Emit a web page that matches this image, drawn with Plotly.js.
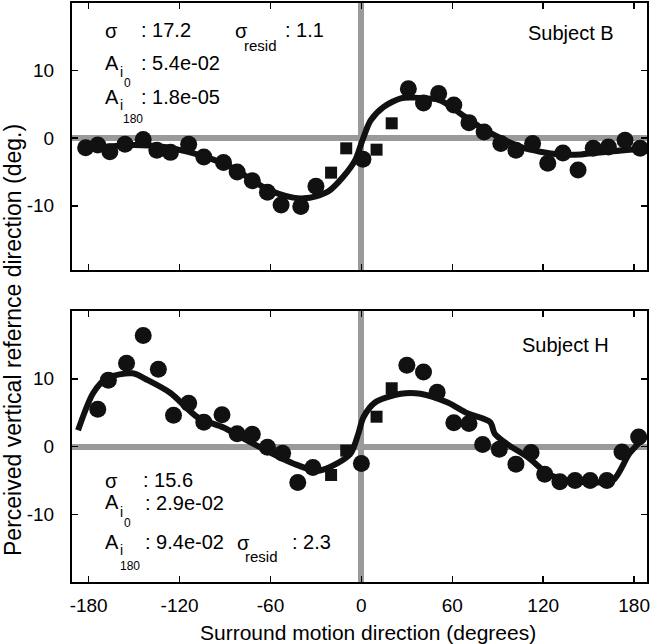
<!DOCTYPE html>
<html>
<head>
<meta charset="utf-8">
<script src="https://cdn.plot.ly/plotly-3.0.1.min.js"></script>
<style>html,body{margin:0;padding:0;background:#fff;}#chart{width:652px;height:644px;}</style>
</head>
<body>
<div id="chart"></div>
<script>
// ---- Data ----
// Subject B (top panel)
const bCircleX = [-182,-174,-166,-156,-144,-135,-126,-114,-104,-91,-82,-72,-62,-53,-40,-30,1,31,41,51,61,71,81,92,102,113,123,133,143,153,163,174,184];
const bCircleY = [-1.4,-1.0,-2.0,-0.9,-0.2,-1.8,-2.1,-0.9,-2.8,-3.6,-5.0,-6.3,-8.0,-9.9,-10.1,-7.1,-3.1,7.3,5.2,6.6,4.9,2.3,0.9,-0.8,-1.8,-0.8,-3.7,-2.2,-4.7,-1.5,-1.3,-0.3,-1.5];
const bSquareX = [-20,-10,10,20];
const bSquareY = [-5.1,-1.5,-1.7,2.2];
const bFitX = [-186,-170,-150,-130,-115,-100,-85,-75,-65,-55,-45,-38,-30,-22,-12,-4,0.7,6,14.5,26,35,52,65,78,92,105,118,131,145,162,189];
const bFitY = [-1.6,-1.3,-1.0,-1.3,-2.0,-3.0,-4.4,-5.8,-7.2,-8.2,-8.8,-8.9,-8.6,-7.9,-5.7,-3.2,-0.3,2.6,4.6,5.9,6.0,5.6,3.7,1.7,0.0,-1.3,-2.0,-2.4,-2.4,-2.0,-1.5];

// Subject H (bottom panel)
const hCircleX = [-174,-167,-155,-144,-134,-124,-114,-104,-92,-82,-72,-62,-52,-42,-32,0,30,41,50,61,71,80,91,102,112,121,131,141,151,162,172,183];
const hCircleY = [5.5,9.8,12.3,16.4,11.4,4.6,6.4,3.6,4.7,1.9,1.8,-0.1,-1.0,-5.3,-3.1,-2.5,12.0,11.0,8.0,3.5,3.4,0.3,-0.4,-2.6,-0.9,-4.1,-5.2,-5.0,-5.0,-5.0,-0.8,1.4];
const hSquareX = [-20,-10,10,20];
const hSquareY = [-4.2,-0.6,4.4,8.6];
const hFitX = [-187,-177,-168,-151,-141,-126,-108,-91,-78,-60,-45,-29,-16,-7,-2,1.3,9,26,39,57,70,85,88,96,110,123,136,153,166,177,187];
const hFitY = [2.4,7.9,10.1,10.8,9.8,7.9,4.3,2.8,1.2,-0.9,-2.5,-3.6,-2.5,-1.0,1.9,4.3,6.5,7.8,7.8,6.5,4.9,3.6,1.9,0.4,-1.6,-4.0,-5.0,-5.3,-5.0,-1.0,1.4];

const xTickVals = [-180,-120,-60,0,60,120,180];
const xTickText = ["-180","-120","-60","0","60","120","180"];
const yTickVals = [-10,0,10];
const yTickText = ["-10","0","10"];

// ---- Layout helpers ----
const FONT = "Liberation Sans, Arial, Helvetica, sans-serif";
const W = 652, H = 644, ML = 72, MR = 5, MT = 3, MB = 62;
const PW = W - ML - MR, PH = H - MT - MB;
function ann(text, px, py, size, extra) {
  return Object.assign({
    xref: 'paper', yref: 'paper',
    x: (px - ML) / PW, y: (H - MB - py) / PH,
    text: text, showarrow: false, xanchor: 'left', yanchor: 'middle',
    font: {family: FONT, size: size, color: '#000'}
  }, extra || {});
}

function traces(cx, cy, sx, sy, fx, fy, xa, ya) {
  return [
    {x: fx, y: fy, xaxis: xa, yaxis: ya, type: 'scatter', mode: 'lines',
     line: {color: '#111', width: 6, shape: 'spline', smoothing: 0.8}, hoverinfo: 'skip'},
    {x: cx, y: cy, xaxis: xa, yaxis: ya, type: 'scatter', mode: 'markers',
     marker: {symbol: 'circle', size: 17, color: '#111', line: {width: 0}}},
    {x: sx, y: sy, xaxis: xa, yaxis: ya, type: 'scatter', mode: 'markers',
     marker: {symbol: 'square', size: 12, color: '#111', line: {width: 0}}}
  ];
}

const data = [].concat(
  traces(bCircleX, bCircleY, bSquareX, bSquareY, bFitX, bFitY, 'x2', 'y2'),
  traces(hCircleX, hCircleY, hSquareX, hSquareY, hFitX, hFitY, 'x', 'y')
);

const xCommon = {
  range: [-191, 188.5], tickmode: 'array', tickvals: xTickVals, ticktext: xTickText,
  ticks: 'inside', ticklen: 6, tickwidth: 1.5, tickcolor: '#000',
  showline: true, linecolor: '#000', linewidth: 2, mirror: 'ticks',
  showgrid: false, zeroline: true, zerolinecolor: '#9a9a9a', zerolinewidth: 6,
  tickfont: {family: FONT, size: 19, color: '#000'}, fixedrange: true
};
const yCommon = {
  tickmode: 'array', tickvals: yTickVals, ticktext: yTickText,
  ticks: 'inside', ticklen: 6, tickwidth: 1.5, tickcolor: '#000',
  showline: true, linecolor: '#000', linewidth: 2, mirror: 'ticks',
  showgrid: false, zeroline: true, zerolinecolor: '#9a9a9a', zerolinewidth: 6,
  tickfont: {family: FONT, size: 19, color: '#000'}, ticklabelstandoff: 12, fixedrange: true
};

const layout = {
  width: W, height: H,
  margin: {l: ML, r: MR, t: MT, b: MB},
  paper_bgcolor: '#fff', plot_bgcolor: '#fff',
  showlegend: false,
  xaxis: Object.assign({}, xCommon, {anchor: 'y', ticklabelstandoff: 5}),
  xaxis2: Object.assign({}, xCommon, {anchor: 'y2', matches: 'x', showticklabels: false}),
  yaxis: Object.assign({}, yCommon, {anchor: 'x', domain: [0, 0.468], range: [-20, 20]}),
  yaxis2: Object.assign({}, yCommon, {anchor: 'x2', domain: [0.5389, 1], range: [-19.5, 20]}),
  annotations: [
    // top panel
    ann('σ', 103, 31, 20), ann(': 17.2', 139, 30, 20),
    ann('A', 103, 63, 20), ann('i', 118, 72, 14), ann('0', 122, 83, 12), ann(': 5.4e-02', 139, 63, 20),
    ann('A', 103, 97, 20), ann('i', 118, 105, 14), ann('180', 121, 119, 12), ann(': 1.8e-05', 139, 97, 20),
    ann('σ', 233, 31, 20), ann('resid', 242, 45, 15), ann(': 1.1', 283, 30, 20),
    ann('Subject B', 526, 33, 20),
    // bottom panel
    ann('σ', 103, 481, 20), ann(': 15.6', 141, 480, 20),
    ann('A', 103, 502, 20), ann('i', 118, 512, 14), ann('0', 122, 523, 12), ann(': 2.9e-02', 143, 503, 20),
    ann('A', 103, 542, 20), ann('i', 118, 550, 14), ann('180', 118, 566, 12), ann(': 9.4e-02', 143, 542, 20),
    ann('σ', 235, 543, 20), ann('resid', 243, 556, 15), ann(': 2.3', 290, 542, 20),
    ann('Subject H', 520, 345, 20),
    // axis titles
    ann('Surround motion direction (degrees)', 368, 632, 21, {xanchor: 'center'}),
    ann('Perceived vertical refernce direction (deg.)', 13, 340, 23, {xanchor: 'center', textangle: -90})
  ]
};

Plotly.newPlot('chart', data, layout, {staticPlot: true, displayModeBar: false});
</script>
</body>
</html>
